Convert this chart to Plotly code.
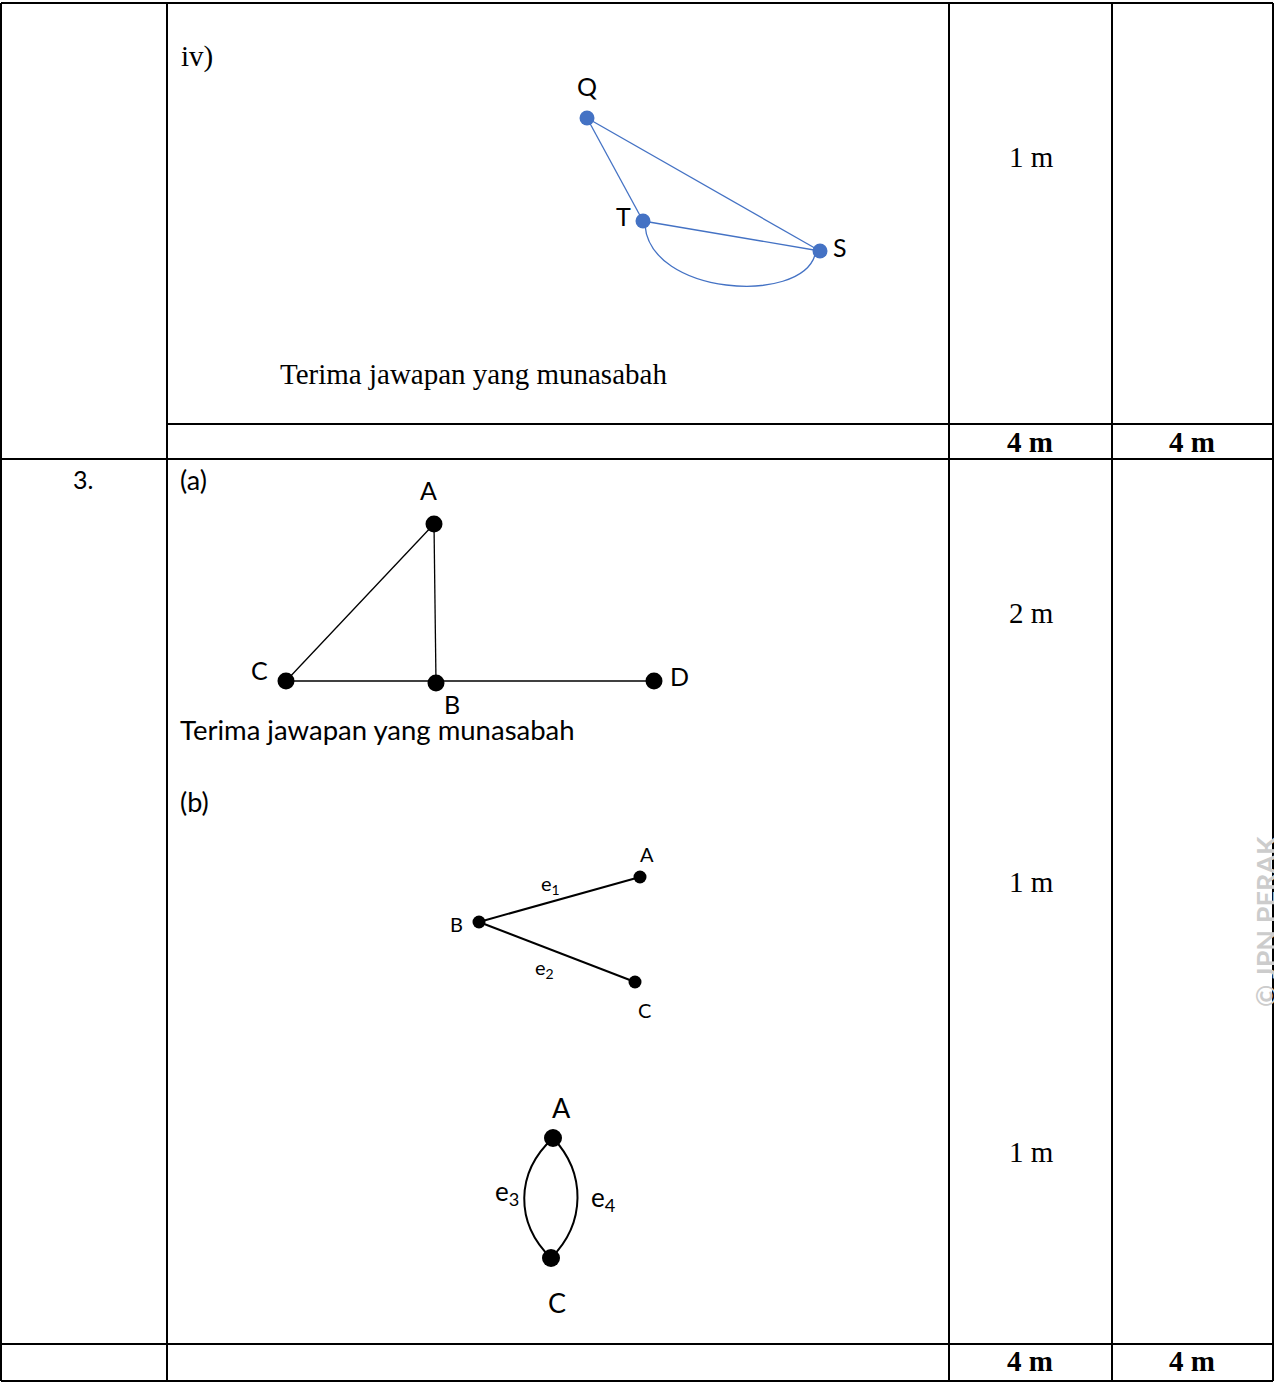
import plotly.graph_objects as go

W, H = 1274, 1383

# ---- data ----
# table grid
col_x = [1, 167, 949, 1112, 1273]
row_y = [3, 424, 459, 1344, 1381]

# top graph (iv)
iv_nodes = ["Q", "T", "S"]
iv_x = [587, 643, 820]
iv_y = [118, 221, 251]
iv_label_x = [587, 623, 840]
iv_label_y = [86, 216, 247]
iv_edges = [("Q", "T"), ("Q", "S"), ("T", "S")]

# graph (a)
a_nodes = ["A", "C", "B", "D"]
a_x = [434, 286, 436, 654]
a_y = [524, 681, 683, 681]
a_label_x = [428, 259, 452, 679]
a_label_y = [490, 670, 704, 676]
a_edges = [("A", "C"), ("A", "B"), ("C", "D")]

# graph (b) part 1
b1_nodes = ["B", "A", "C"]
b1_x = [479, 640, 635]
b1_y = [922, 877, 982]
b1_label_x = [456, 647, 644]
b1_label_y = [924, 854, 1010]
b1_edges = [("B", "A"), ("B", "C")]
b1_edge_names = ["e<sub>1</sub>", "e<sub>2</sub>"]
b1_edge_lx = [550, 544]
b1_edge_ly = [884, 968]

# graph (b) part 2
b2_nodes = ["A", "C"]
b2_x = [553, 551]
b2_y = [1138, 1258]
b2_label_x = [561, 557]
b2_label_y = [1107, 1302]
b2_edge_names = ["e<sub>3</sub>", "e<sub>4</sub>"]
b2_edge_lx = [507, 603]
b2_edge_ly = [1192, 1198]

marks_text = ["1 m", "2 m", "1 m", "1 m"]
marks_y = [157, 613, 882, 1152]
total_text = ["4 m", "4 m", "4 m", "4 m"]
total_x = [1030, 1192, 1030, 1192]
total_y = [442, 442, 1361, 1361]

BLUE = "#4472C4"
SANS = "Lato, 'Open Sans', sans-serif"
SERIF = "'Liberation Serif', 'Times New Roman', serif"

fig = go.Figure()
shapes = []
annots = []

def line(x0, y0, x1, y1, color="black", width=2):
    shapes.append(dict(type="line", x0=x0, y0=y0, x1=x1, y1=y1,
                       line=dict(color=color, width=width), layer="below"))

# grid
line(col_x[0], row_y[0], col_x[4], row_y[0])
line(col_x[1], row_y[1], col_x[4], row_y[1])
line(col_x[0], row_y[2], col_x[4], row_y[2])
line(col_x[0], row_y[3], col_x[4], row_y[3])
line(col_x[0], row_y[4], col_x[4], row_y[4])
for cx in col_x:
    line(cx, row_y[0], cx, row_y[4])

def add_graph(names, xs, ys, edges, color, width):
    pos = dict(zip(names, zip(xs, ys)))
    for a, b in edges:
        fig.add_trace(go.Scatter(x=[pos[a][0], pos[b][0]], y=[pos[a][1], pos[b][1]],
                                 mode="lines", line=dict(color=color, width=width),
                                 hoverinfo="skip", showlegend=False))
    return pos

def add_nodes(xs, ys, color, size):
    fig.add_trace(go.Scatter(x=xs, y=ys, mode="markers",
                             marker=dict(color=color, size=size, line=dict(width=0)),
                             hoverinfo="skip", showlegend=False))

def text(x, y, s, size, font=SANS, color="black", bold=False, xanchor="center", angle=0):
    if bold:
        s = "<b>" + s + "</b>"
    annots.append(dict(x=x, y=y, text=s, showarrow=False, xanchor=xanchor, yanchor="middle",
                       font=dict(family=font, size=size, color=color), textangle=angle))

# iv graph
pos = add_graph(iv_nodes, iv_x, iv_y, iv_edges, BLUE, 1.3)
T, S = pos["T"], pos["S"]
shapes.append(dict(type="path",
                   path=f"M {T[0]+2} {T[1]+4} C {T[0]+7} {T[1]+74}, {S[0]-20} {S[1]+54}, {S[0]-5} {S[1]+4}",
                   line=dict(color=BLUE, width=1.3)))
add_nodes(iv_x, iv_y, BLUE, 15)
for n, lx, ly in zip(iv_nodes, iv_label_x, iv_label_y):
    text(lx, ly, n, 25)

# (a)
add_graph(a_nodes, a_x, a_y, a_edges, "black", 1.3)
add_nodes(a_x, a_y, "black", 17)
for n, lx, ly in zip(a_nodes, a_label_x, a_label_y):
    text(lx, ly, n, 25)

# (b) part 1
add_graph(b1_nodes, b1_x, b1_y, b1_edges, "black", 2)
add_nodes(b1_x, b1_y, "black", 13)
for n, lx, ly in zip(b1_nodes, b1_label_x, b1_label_y):
    text(lx, ly, n, 20)
for n, lx, ly in zip(b1_edge_names, b1_edge_lx, b1_edge_ly):
    text(lx, ly, n, 20)

# (b) part 2
A2 = (b2_x[0], b2_y[0])
C2 = (b2_x[1], b2_y[1])
shapes.append(dict(type="path",
                   path=f"M {A2[0]} {A2[1]} C {A2[0]-38} {A2[1]+35}, {C2[0]-36} {C2[1]-35}, {C2[0]} {C2[1]}",
                   line=dict(color="black", width=2)))
shapes.append(dict(type="path",
                   path=f"M {A2[0]} {A2[1]} C {A2[0]+33} {A2[1]+35}, {C2[0]+35} {C2[1]-35}, {C2[0]} {C2[1]}",
                   line=dict(color="black", width=2)))
add_nodes(b2_x, b2_y, "black", 18)
for n, lx, ly in zip(b2_nodes, b2_label_x, b2_label_y):
    text(lx, ly, n, 27)
for n, lx, ly in zip(b2_edge_names, b2_edge_lx, b2_edge_ly):
    text(lx, ly, n, 26)

# texts
text(179, 56, "iv)", 29, font=SERIF, xanchor="left")
text(473, 374, "Terima jawapan yang munasabah", 29, font=SERIF)
text(83, 479, "3.", 25)
text(178, 479, "(a)", 27, xanchor="left")
text(178, 729, "Terima jawapan yang munasabah", 27.5, xanchor="left")
text(178, 801, "(b)", 27, xanchor="left")
for s, y in zip(marks_text, marks_y):
    text(1031, y, s, 29, font=SERIF)
for s, x, y in zip(total_text, total_x, total_y):
    text(x, y, s, 29, font=SERIF, bold=True)
text(1265, 922, "© JPN PERAK", 27, color="#cccccc", bold=True, angle=-90)

fig.update_layout(width=W, height=H, margin=dict(l=0, r=0, t=0, b=0),
                  paper_bgcolor="white", plot_bgcolor="white",
                  xaxis=dict(range=[0, W], visible=False, fixedrange=True),
                  yaxis=dict(range=[H, 0], visible=False, fixedrange=True),
                  shapes=shapes, annotations=annots, showlegend=False)
fig.write_html("out.html", config={"displayModeBar": False},
               post_script="document.body.style.margin='0px';document.body.style.overflow='hidden';")
